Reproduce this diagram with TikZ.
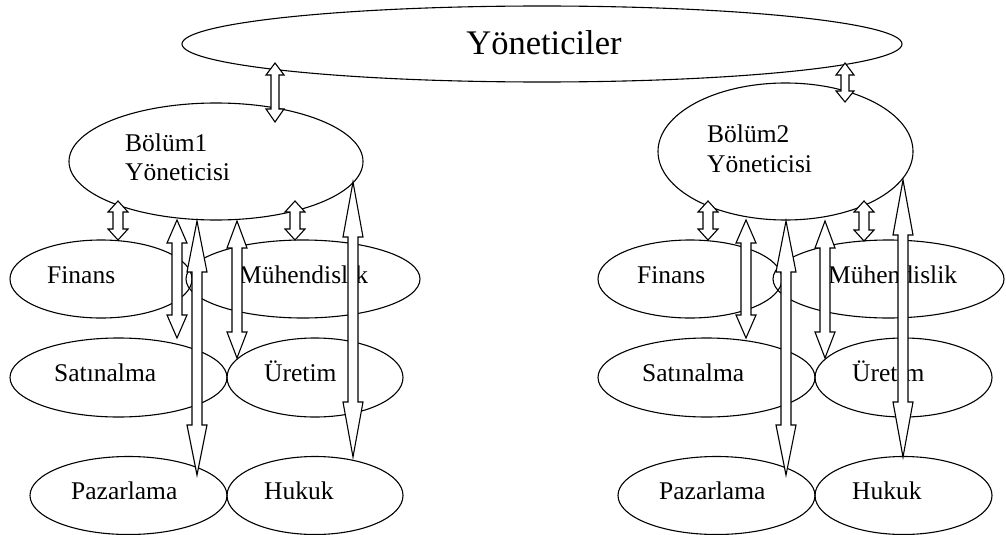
\documentclass[tikz,border=0pt]{standalone}
\usepackage{fontspec}
\setmainfont{Liberation Serif}
\usetikzlibrary{shapes.geometric}

\tikzset{
  unit/.style={draw, ellipse, inner sep=0pt, outer sep=0pt, line width=1.1pt},
  lbl/.style={anchor=base west, inner sep=0pt, font=\fontsize{25.5}{29}\selectfont},
  blk/.style={draw, fill=white, line width=1.1pt, line join=miter},
}

% vertical double block arrow: x, top tip, bottom tip, top head length,
% bottom head length, half shaft width, half head width
\newcommand\vblock[7]{%
  \draw[blk] ({#1-#6},{#2+#4}) -- ({#1-#7},{#2+#4}) -- (#1,#2)
    -- ({#1+#7},{#2+#4}) -- ({#1+#6},{#2+#4}) -- ({#1+#6},{#3-#5})
    -- ({#1+#7},{#3-#5}) -- (#1,#3) -- ({#1-#7},{#3-#5})
    -- ({#1-#6},{#3-#5}) -- cycle;}

\begin{document}
\begin{tikzpicture}[x=1pt, y=-1pt]
\useasboundingbox (0,0) rectangle (1006,535);

% top management
\node[unit, minimum width=720pt, minimum height=76pt] (yon) at (542,44) {};
\node[anchor=base, inner sep=0pt, font=\fontsize{34.5}{40}\selectfont] (yontxt) at (544,55) {Yöneticiler};

% division 1
\node[unit, minimum width=294pt, minimum height=117pt] (b1) at (216,161.5) {};
\node[unit, minimum width=182pt, minimum height=78pt] (f1) at (101,279) {};
\node[unit, minimum width=234pt, minimum height=78pt] (m1) at (303,279) {};
\node[unit, minimum width=217pt, minimum height=79pt] (s1) at (118.5,377.5) {};
\node[unit, minimum width=176pt, minimum height=79pt] (u1) at (315,377.5) {};
\node[unit, minimum width=197pt, minimum height=78pt] (p1) at (128.5,495.5) {};
\node[unit, minimum width=176pt, minimum height=78pt] (h1) at (315,495.5) {};

\node[lbl] (b1a) at (125,151) {Bölüm1};
\node[lbl] (b1b) at (125,180) {Yöneticisi};
\node[lbl] (f1t) at (47,283) {Finans};
\node[lbl] (m1t) at (239,283) {Mühendislik};
\node[lbl] (s1t) at (54,381) {Satınalma};
\node[lbl] (u1t) at (264,381) {Üretim};
\node[lbl] (p1t) at (71,499) {Pazarlama};
\node[lbl] (h1t) at (264,499) {Hukuk};

% division 2
\node[unit, minimum width=255pt, minimum height=137pt] (b2) at (785.5,151.5) {};
\node[unit, minimum width=184pt, minimum height=78pt] (f2) at (690,279) {};
\node[unit, minimum width=231pt, minimum height=78pt] (m2) at (888.5,279) {};
\node[unit, minimum width=217pt, minimum height=79pt] (s2) at (706.5,377.5) {};
\node[unit, minimum width=177pt, minimum height=79pt] (u2) at (903.5,377.5) {};
\node[unit, minimum width=197pt, minimum height=78pt] (p2) at (716.5,495.5) {};
\node[unit, minimum width=177pt, minimum height=78pt] (h2) at (903.5,495.5) {};

\node[lbl] (b2a) at (707,142) {Bölüm2};
\node[lbl] (b2b) at (707,172) {Yöneticisi};
\node[lbl] (f2t) at (637,283) {Finans};
\node[lbl] (m2t) at (828,283) {Mühendislik};
\node[lbl] (s2t) at (642,381) {Satınalma};
\node[lbl] (u2t) at (852,381) {Üretim};
\node[lbl] (p2t) at (659,499) {Pazarlama};
\node[lbl] (h2t) at (852,499) {Hukuk};

% links to top management
\vblock{275}{63}{122}{12}{13}{4}{9}
\vblock{845}{63}{102}{12}{11}{4}{9}

% division 1 links
\vblock{118}{201}{240}{11}{11}{5}{10}
\vblock{295}{201}{240}{11}{11}{5}{10}
\vblock{177}{220}{338}{23}{23}{5}{10}
\vblock{197}{221}{475}{51}{50}{5}{10}
\vblock{237}{221}{358}{27}{26}{5}{10}
\vblock{353}{182}{457}{55}{55}{5}{10}

% division 2 links
\vblock{708}{201}{240}{11}{11}{5}{10}
\vblock{864}{201}{241}{11}{11}{5}{10}
\vblock{746}{220}{338}{23}{23}{5}{10}
\vblock{786}{221}{475}{51}{50}{5}{10}
\vblock{825}{221}{358}{27}{26}{5}{10}
\vblock{903}{180}{457}{55}{55}{5}{10}
\end{tikzpicture}
\end{document}
